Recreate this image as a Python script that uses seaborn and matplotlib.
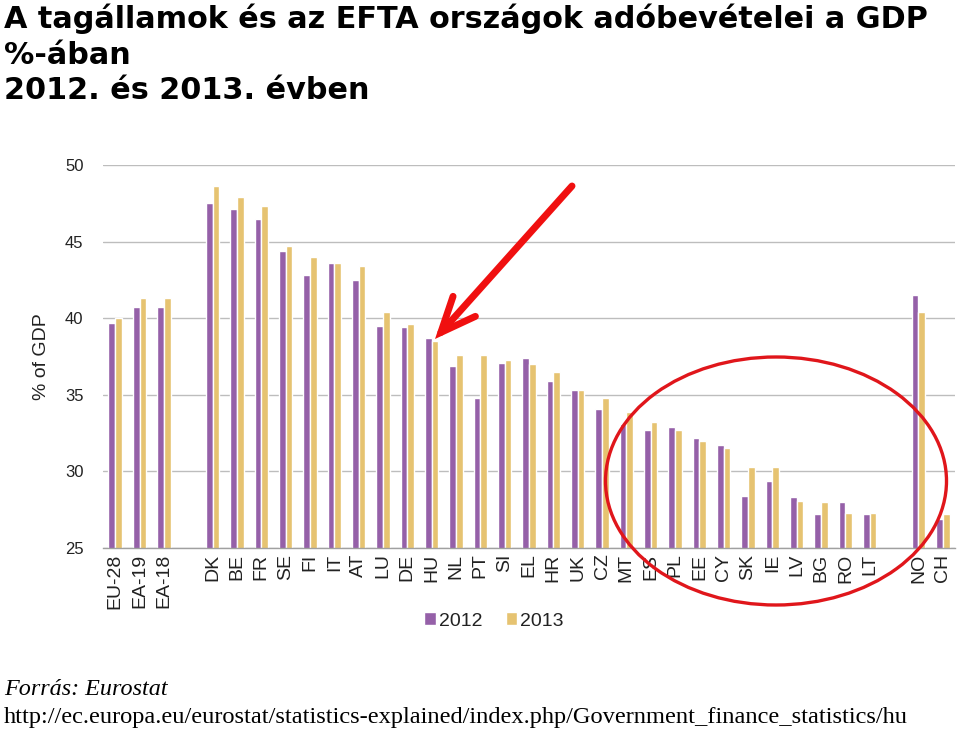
import numpy as np
import pandas as pd
import matplotlib
matplotlib.use("Agg")
import matplotlib.pyplot as plt
from matplotlib.patches import Ellipse
import seaborn as sns

# ---- data ----
categories = ["EU-28", "EA-19", "EA-18", "",
              "DK", "BE", "FR", "SE", "FI", "IT", "AT", "LU", "DE", "HU", "NL", "PT",
              "SI", "EL", "HR", "UK", "CZ", "MT", "ES", "PL", "EE", "CY", "SK", "IE",
              "LV", "BG", "RO", "LT", " ", "NO", "CH"]
values_2012 = [39.7, 40.7, 40.7, np.nan,
               47.5, 47.1, 46.5, 44.4, 42.8, 43.6, 42.5, 39.5, 39.4, 38.7, 36.9, 34.8,
               37.1, 37.4, 35.9, 35.3, 34.1, 33.1, 32.7, 32.9, 32.2, 31.7, 28.4, 29.4,
               28.3, 27.2, 28.0, 27.2, np.nan, 41.5, 26.9]
values_2013 = [40.0, 41.3, 41.3, np.nan,
               48.6, 47.9, 47.3, 44.7, 44.0, 43.6, 43.4, 40.4, 39.6, 38.5, 37.6, 37.6,
               37.3, 37.0, 36.5, 35.3, 34.8, 33.9, 33.2, 32.7, 32.0, 31.5, 30.3, 30.3,
               28.1, 28.0, 27.3, 27.3, np.nan, 40.4, 27.2]
years = ["2012", "2013"]
yticks = [25, 30, 35, 40, 45, 50]

df = pd.DataFrame({
    "country": categories * 2,
    "year": [years[0]] * len(categories) + [years[1]] * len(categories),
    "value": values_2012 + values_2013,
})
df = df.dropna()

purple = "#9560A8"
gold = "#E6C371"

sns.set_theme(style="white")
plt.rcParams["font.family"] = ["Liberation Sans", "DejaVu Sans"]

fig = plt.figure(figsize=(9.59, 7.29), dpi=100)
ax = fig.add_axes([103 / 959, 1 - 548 / 729, (955 - 103) / 959, (548 - 165) / 729])

sns.barplot(data=df, x="country", y="value", hue="year", order=categories,
            hue_order=years, palette=[purple, gold], width=0.55, dodge=True,
            gap=0, saturation=1, ax=ax, errorbar=None)

ax.set_ylim(25, 50)
ax.set_xlim(-0.5, len(categories) - 0.5)
ax.set_yticks(yticks)
ax.set_yticklabels([str(v) for v in yticks], fontsize=12, color="#222222")
ax.set_xticks(range(len(categories)))
ax.set_xticklabels(categories, rotation=90, fontsize=14, color="#222222")
ax.set_xticks(np.arange(-0.5, len(categories), 1.0), minor=True)
ax.tick_params(axis="x", which="major", length=0, pad=4)
ax.tick_params(axis="x", which="minor", length=5, width=1, color="#A0A0A0", direction="out")
ax.tick_params(axis="y", length=0, pad=14)
ax.yaxis.grid(True, color="#BDBDBD", lw=1)
ax.set_axisbelow(True)
for s in ["top", "right", "left"]:
    ax.spines[s].set_visible(False)
ax.spines["bottom"].set_color("#A0A0A0")
ax.spines["bottom"].set_linewidth(1)
ax.set_xlabel("")
ax.set_ylabel("% of GDP", fontsize=14, color="#222222", labelpad=11)

handles, labels = ax.get_legend_handles_labels()
ax.legend_.remove()
fig.legend(handles, labels, loc="center", bbox_to_anchor=(494 / 959, 1 - 621 / 729),
           ncol=2, frameon=False, fontsize=14, handlelength=0.6, handleheight=0.6,
           handletextpad=0.15, columnspacing=1.2, labelcolor="#222222")

# title
title_lines = ["A tagállamok és az EFTA országok adóbevételei a GDP",
               "%-ában",
               "2012. és 2013. évben"]
for i, line in enumerate(title_lines):
    fig.text(4 / 959, 1 - (28 + i * 35.7) / 729, line, fontsize=21.8, fontweight="bold",
             family="DejaVu Sans", ha="left", va="baseline", color="black")

# source
fig.text(4 / 959, 1 - 695 / 729, "Forrás: Eurostat", fontsize=17.4, style="italic",
         family="Liberation Serif", ha="left", va="baseline", color="black")
fig.text(4 / 959, 1 - 723 / 729,
         "http://ec.europa.eu/eurostat/statistics-explained/index.php/Government_finance_statistics/hu",
         fontsize=17.6, family="Liberation Serif", ha="left", va="baseline", color="black")

# red annotations
ell = Ellipse((776 / 959, 1 - 481 / 729), 341 / 959, 248 / 729, transform=fig.transFigure,
              fill=False, edgecolor="#E0161B", lw=2.4, zorder=10)
fig.patches.append(ell)
ax.annotate("", xy=(435 / 959, 1 - 339 / 729), xycoords="figure fraction",
            xytext=(572 / 959, 1 - 186 / 729), textcoords="figure fraction",
            arrowprops=dict(arrowstyle="->,head_length=2.1,head_width=0.9",
                            lw=5, color="#F01010", shrinkA=0, shrinkB=0,
                            capstyle="round", joinstyle="miter"),
            annotation_clip=False, zorder=11)

fig.savefig("out.png", dpi=100)
